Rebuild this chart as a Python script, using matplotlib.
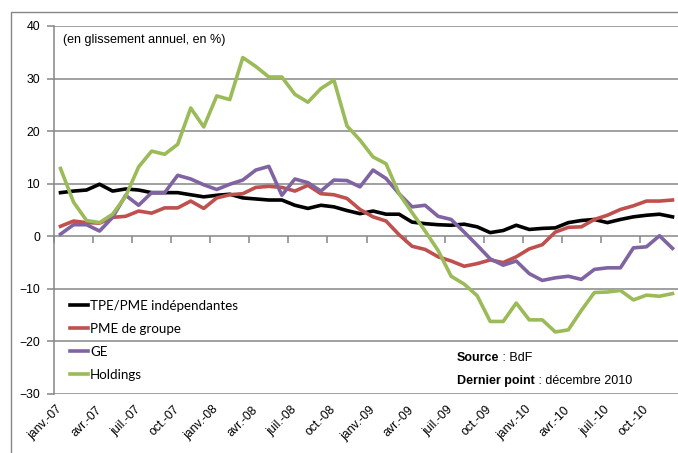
import numpy as np
import matplotlib.pyplot as plt
from matplotlib.patches import Rectangle

# glissement annuel (%), janv.-07 -> déc.-10
tpe = [8.3, 8.6, 8.8, 9.9, 8.6, 9.0, 8.8, 8.3, 8.3, 8.3, 7.9, 7.5,
       7.8, 8.0, 7.3, 7.1, 6.9, 6.9, 5.9, 5.3, 5.9, 5.6, 4.9, 4.3,
       4.8, 4.2, 4.2, 2.7, 2.4, 2.2, 2.1, 2.3, 1.8, 0.7, 1.1, 2.1,
       1.3, 1.5, 1.6, 2.6, 3.0, 3.2, 2.6, 3.2, 3.7, 4.0, 4.2, 3.7]
pme = [1.9, 2.9, 2.6, 2.5, 3.6, 3.8, 4.8, 4.4, 5.4, 5.4, 6.7, 5.3,
       7.3, 7.9, 8.1, 9.3, 9.5, 9.3, 8.6, 9.7, 8.1, 7.9, 7.2, 5.1,
       3.7, 2.9, 0.3, -1.9, -2.5, -3.9, -4.7, -5.7, -5.2, -4.5, -5.0, -3.9,
       -2.4, -1.6, 0.8, 1.7, 1.8, 3.2, 4.0, 5.1, 5.8, 6.7, 6.7, 6.9]
ge = [0.4, 2.2, 2.2, 1.0, 3.6, 7.8, 5.9, 8.3, 8.3, 11.6, 10.9, 9.8,
      8.9, 9.9, 10.7, 12.6, 13.3, 7.8, 10.9, 10.2, 8.6, 10.7, 10.6, 9.4,
      12.6, 11.0, 8.1, 5.6, 5.9, 3.8, 3.2, 0.8, -1.7, -4.3, -5.5, -4.7,
      -7.1, -8.4, -7.9, -7.6, -8.2, -6.3, -6.0, -6.0, -2.2, -2.0, 0.1, -2.3]
holdings = [12.9, 6.5, 3.0, 2.6, 4.2, 7.6, 13.2, 16.2, 15.6, 17.5, 24.4, 20.8,
            26.7, 26.0, 34.0, 32.3, 30.3, 30.3, 27.0, 25.5, 28.1, 29.7, 21.0, 18.3,
            15.1, 13.8, 8.1, 4.5, 1.0, -2.7, -7.6, -9.1, -11.3, -16.2, -16.2, -12.7,
            -15.9, -15.9, -18.2, -17.8, -14.1, -10.7, -10.6, -10.3, -12.1, -11.2, -11.4, -10.9]

mois = ['janv.', 'avr.', 'juil.', 'oct.']
annees = ['07', '08', '09', '10']
tick_labels = [m + '-' + a for a in annees for m in mois]
noms = ['TPE/PME indépendantes', 'PME de groupe', 'GE', 'Holdings']
couleurs = ['#000000', '#C0504D', '#8064A2', '#9BBB59']

gris = '#868686'
plt.rcParams['font.family'] = ['Liberation Sans', 'DejaVu Sans']

fig = plt.figure(figsize=(6.78, 4.53), dpi=100)
ax = fig.add_axes([54/678, 1-394/453, 625/678, 368/453])

x = np.arange(len(tpe))
for serie, nom, c in zip([tpe, pme, ge, holdings], noms, couleurs):
    ax.plot(x, serie, color=c, lw=2.6, label=nom)

ax.set_xlim(-0.5, 47.5)
ax.set_ylim(-30, 40)
ax.set_yticks(range(-30, 41, 10))
ax.yaxis.grid(True, color=gris, lw=1.1)
ax.set_axisbelow(True)
for s in ['top', 'right', 'bottom']:
    ax.spines[s].set_visible(False)
ax.spines['left'].set_color(gris)
ax.spines['left'].set_linewidth(1.1)
ax.tick_params(axis='y', length=5, width=1.1, color=gris, labelsize=8.8, pad=5)

ax.set_xticks(x[::3])
ax.set_xticklabels(tick_labels, rotation=45, ha='right', va='center',
                   rotation_mode='anchor', fontsize=8.8)
ax.tick_params(axis='x', length=0, pad=10)

# graduations sur l'axe à zéro
sec = ax.secondary_xaxis(30/70)
sec.set_xticks(np.arange(-0.5, 48, 3))
sec.set_xticklabels([])
sec.tick_params(length=5, width=1.1, color=gris)
sec.spines['bottom'].set_visible(False)

fig.text(63/678, 1-40/453, '(en glissement annuel, en %)', fontsize=9, va='center')

leg = fig.legend(loc='upper left', bbox_to_anchor=(70/678, 1-300/453), frameon=False,
                 handlelength=1.35, handletextpad=0.15, labelspacing=0.82,
                 prop={'family': 'Lato', 'size': 9.6}, borderpad=0, borderaxespad=0)

t1 = fig.text(457/678, 1-358/453, 'Source', fontsize=9, fontweight='bold', va='center')
ax.annotate(' : BdF', xy=(1, 0.5), xycoords=t1, va='center', fontsize=9)
t2 = fig.text(457/678, 1-381/453, 'Dernier point', fontsize=9, fontweight='bold', va='center')
ax.annotate(' : décembre 2010', xy=(1, 0.5), xycoords=t2, va='center', fontsize=9)

fig.patches.append(Rectangle((11/678, -0.05), 1.0, 1-12/453+0.05, transform=fig.transFigure,
                             fill=False, ec=gris, lw=1))

fig.savefig('out.png', dpi=100)
